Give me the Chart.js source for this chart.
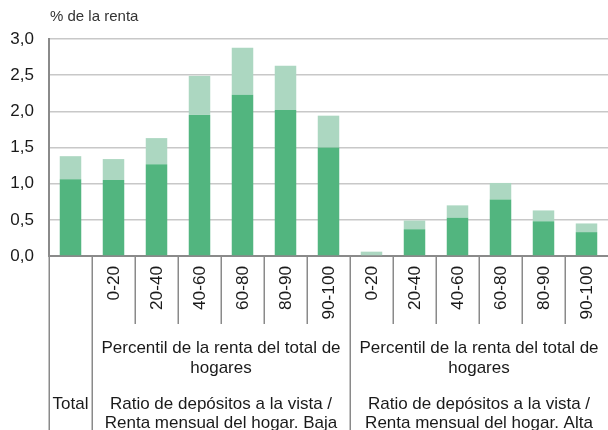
<!DOCTYPE html>
<html lang="es">
<head>
<meta charset="utf-8">
<title>Depósitos a la vista en % de la renta</title>
<script src="https://cdn.jsdelivr.net/npm/chart.js@4.4.1/dist/chart.umd.min.js"></script>
<style>
  html, body { margin: 0; padding: 0; background: #ffffff; }
  #wrap { width: 608px; height: 430px; position: relative; }
</style>
</head>
<body>
<div id="wrap"><canvas id="chart"></canvas></div>
<script>
// Categories: overall total, then income percentiles for the low and high deposit-ratio groups
const categories = ['Total', '0-20', '20-40', '40-60', '60-80', '80-90', '90-100',
                    '0-20', '20-40', '40-60', '60-80', '80-90', '90-100'];
// Lower (dark) and upper (light) stacked components, % of income
const seriesLower = [1.06, 1.05, 1.27, 1.95, 2.23, 2.02, 1.50, 0.00, 0.37, 0.53, 0.78, 0.48, 0.33];
const seriesUpper = [0.32, 0.29, 0.36, 0.54, 0.65, 0.61, 0.44, 0.06, 0.12, 0.17, 0.23, 0.15, 0.12];
// Y axis ticks
const yTicks = [0, 0.5, 1, 1.5, 2, 2.5, 3];
const yUnit = '% de la renta';
// Multi-level axis labels
const percentileTitle = ['Percentil de la renta del total de', 'hogares'];
const groupTitles = [
  ['Ratio de depósitos a la vista /', 'Renta mensual del hogar. Baja'],
  ['Ratio de depósitos a la vista /', 'Renta mensual del hogar. Alta']
];
const totalLabel = 'Total';
// Category index ranges of the two groups
const groupRanges = [[1, 6], [7, 12]];

const FONT = "'Liberation Sans', Arial, Helvetica, sans-serif";
const TEXT = '#1a1a1a';
const AXIS = '#8a8a8a';

const fmt = v => v.toFixed(1).replace('.', ',');

// Draws the unit label and the hierarchical category axis below the plot
const axisPlugin = {
  id: 'hierAxis',
  afterDraw(chart) {
    const ctx = chart.ctx;
    const xs = chart.scales.x;
    const area = chart.chartArea;
    const n = categories.length;
    const w = (area.right - area.left) / n;
    const bottom = area.bottom;
    const H = chart.height;
    ctx.save();

    // unit label
    ctx.fillStyle = '#333333';
    ctx.font = '15px ' + FONT;
    ctx.textAlign = 'left';
    ctx.textBaseline = 'middle';
    ctx.fillText(yUnit, area.left + 1, 17);

    // separators
    ctx.strokeStyle = AXIS;
    ctx.lineWidth = 1.5;
    const fullIdx = [0, groupRanges[0][0], groupRanges[1][0]];
    for (let i = 0; i < n; i++) {
      const x = Math.round(area.left + i * w) + 0.25;
      const full = fullIdx.includes(i);
      ctx.beginPath();
      ctx.moveTo(x, bottom);
      ctx.lineTo(x, full ? H : bottom + 68);
      ctx.stroke();
    }

    // rotated percentile labels
    ctx.fillStyle = TEXT;
    ctx.font = '17.2px ' + FONT;
    for (let i = 1; i < n; i++) {
      const cx = xs.getPixelForValue(i);
      ctx.save();
      ctx.translate(cx + 1, bottom + 10);
      ctx.rotate(-Math.PI / 2);
      ctx.textAlign = 'right';
      ctx.textBaseline = 'middle';
      ctx.fillText(categories[i], 0, 0);
      ctx.restore();
    }

    // group titles
    ctx.font = '17px ' + FONT;
    ctx.textAlign = 'center';
    ctx.textBaseline = 'middle';
    groupRanges.forEach((r, g) => {
      const x0 = area.left + r[0] * w;
      const x1 = area.left + (r[1] + 1) * w;
      const cx = (x0 + x1) / 2;
      ctx.fillText(percentileTitle[0], cx, bottom + 92);
      ctx.fillText(percentileTitle[1], cx, bottom + 112);
      ctx.fillText(groupTitles[g][0], cx, bottom + 148);
      ctx.fillText(groupTitles[g][1], cx, bottom + 167);
    });
    ctx.fillText(totalLabel, xs.getPixelForValue(0), bottom + 148);
    ctx.restore();
  }
};

new Chart(document.getElementById('chart'), {
  type: 'bar',
  data: {
    labels: categories,
    datasets: [
      { label: 'Componente inferior', data: seriesLower, backgroundColor: '#52b57f' },
      { label: 'Componente superior', data: seriesUpper, backgroundColor: '#acd7c1' }
    ]
  },
  options: {
    responsive: true,
    maintainAspectRatio: false,
    animation: false,
    devicePixelRatio: 1,
    layout: { padding: { top: 39, right: 0, left: 0, bottom: 0 } },
    datasets: { bar: { categoryPercentage: 1, barPercentage: 0.5 } },
    plugins: { legend: { display: false }, tooltip: { enabled: false } },
    scales: {
      x: {
        stacked: true,
        ticks: { display: false },
        grid: { display: false },
        border: { display: true, color: AXIS, width: 2 },
        afterFit(scale) { scale.height = 174; }
      },
      y: {
        stacked: true,
        min: yTicks[0],
        max: yTicks[yTicks.length - 1],
        afterBuildTicks(scale) { scale.ticks = yTicks.map(v => ({ value: v })); },
        ticks: {
          padding: 15,
          color: TEXT,
          font: { family: FONT, size: 17 },
          callback: v => fmt(v)
        },
        grid: { color: '#c8c8c8', lineWidth: 1.5, drawTicks: false },
        border: { display: true, color: AXIS, width: 2 },
        afterFit(scale) { scale.width = 49; }
      }
    }
  },
  plugins: [axisPlugin]
});
</script>
</body>
</html>
